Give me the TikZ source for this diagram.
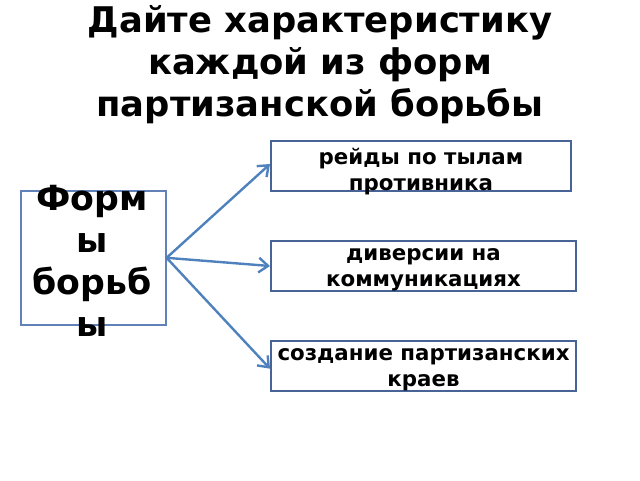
\documentclass[tikz,border=0pt]{standalone}
\usepackage{fontspec}
\setmainfont{DejaVu Sans}
\usepackage{tikz}
\usetikzlibrary{arrows.meta}

\definecolor{arrowblue}{RGB}{79,129,189}
\definecolor{leftframe}{RGB}{96,130,184}
\definecolor{rightframe}{RGB}{72,100,150}

\begin{document}
\begin{tikzpicture}[x=0.75pt,y=0.75pt,yscale=-1,xscale=1,
    formbox/.style={draw=rightframe, line width=1.5pt, minimum width=#1*0.75pt,
        minimum height=37.5pt, inner sep=0pt, anchor=north west},
    boxtext/.style={anchor=north, inner sep=0pt, yshift=-6pt, align=center,
        font=\bfseries\fontsize{16}{19.5}\selectfont},
    formarrow/.style={draw=arrowblue, line width=1.8pt, -{Straight Barb[length=7pt,width=11pt]}}]
    \useasboundingbox (0,0) rectangle (640,480);

    % Title
    \node (title) at (320,64.5) [align=center, font=\bfseries\fontsize{26.5}{31.7}\selectfont] {Дайте характеристику\\каждой из форм\\партизанской борьбы};

    %Shape: Rectangle [id:forms]
    \node (forms) [draw=leftframe, line width=1.2pt, minimum width=108.75pt, minimum height=100.5pt, anchor=north west, inner sep=0pt] at (20,190) {};
    % Text Node
    \node (formstext) at (92,261) [align=center, font=\bfseries\fontsize{26}{31.5}\selectfont] {Форм\\ы\\борьб\\ы};

    %Shape: Rectangle [id:raids]
    \node (raids) [formbox=300] at (270,140) {};
    \node (raidstext) [boxtext] at (raids.north) {рейды по тылам\\противника};
    %Shape: Rectangle [id:sabotage]
    \node (sabotage) [formbox=305] at (270,240) {};
    \node (sabotagetext) [boxtext] at (sabotage.north) {диверсии на\\коммуникациях};
    %Shape: Rectangle [id:regions]
    \node (regions) [formbox=305] at (270,340) {};
    \node (regionstext) [boxtext] at (regions.north) {создание партизанских\\краев};

    %Straight Lines
    \draw [formarrow] (forms.east) -- ([yshift=-1.5pt]raids.west);
    \draw [formarrow] (forms.east) -- (sabotage.west);
    \draw [formarrow] (forms.east) -- ([yshift=2pt]regions.west);

\end{tikzpicture}
\end{document}
